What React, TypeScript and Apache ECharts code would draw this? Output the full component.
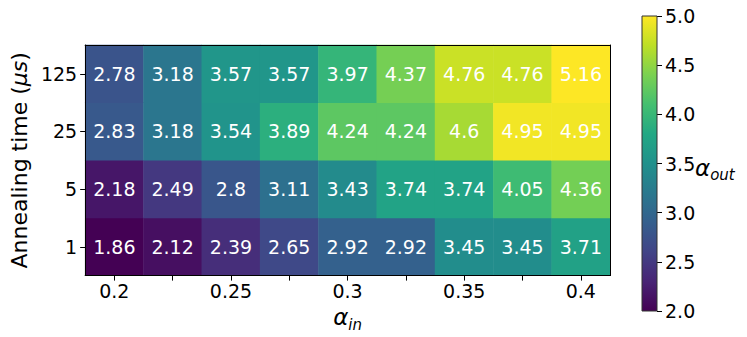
import React, { useEffect, useRef } from "react";
import * as echarts from "echarts";

const xCategories = ["0.2", "0.225", "0.25", "0.275", "0.3", "0.325", "0.35", "0.375", "0.4"];
const xLabelShown = ["0.2", "", "0.25", "", "0.3", "", "0.35", "", "0.4"];
const yCategories = ["1", "5", "25", "125"];

const row1 = [1.86, 2.12, 2.39, 2.65, 2.92, 2.92, 3.45, 3.45, 3.71];
const row5 = [2.18, 2.49, 2.8, 3.11, 3.43, 3.74, 3.74, 4.05, 4.36];
const row25 = [2.83, 3.18, 3.54, 3.89, 4.24, 4.24, 4.6, 4.95, 4.95];
const row125 = [2.78, 3.18, 3.57, 3.57, 3.97, 4.37, 4.76, 4.76, 5.16];
const rows = [row1, row5, row25, row125];

const cbarMin = 2;
const cbarMax = 5;
const cbarInterval = 0.5;

const viridis = [
  "#440154", "#482475", "#414487", "#355f8d", "#2a788e", "#21918c",
  "#22a884", "#44bf70", "#7ad151", "#bddf26", "#fde725",
];

const FONT = "DejaVu Sans";

export default function App() {
  const ref = useRef<HTMLDivElement>(null);
  useEffect(() => {
    if (!ref.current) return;
    const chart = echarts.init(ref.current, null, { renderer: "svg" });
    const data: [number, number, number][] = [];
    rows.forEach((r, yi) => r.forEach((v, xi) => data.push([xi, yi, v])));
    const stops = viridis.map((c, i) => ({ offset: i / (viridis.length - 1), color: c }));

    chart.setOption({
      animation: false,
      textStyle: { fontFamily: FONT },
      grid: [
        { left: 79, top: 45, width: 531, height: 236 },
        { left: 642, top: 16, width: 15, height: 295 },
      ],
      xAxis: [
        {
          type: "category",
          gridIndex: 0,
          data: xCategories,
          position: "bottom",
          z: 10,
          axisLine: { show: true, lineStyle: { color: "#000", width: 1 } },
          axisTick: { show: true, interval: 0, alignWithLabel: true, length: 5, lineStyle: { color: "#000" } },
          axisLabel: {
            interval: 0,
            margin: 6,
            fontSize: 19,
            color: "#000",
            fontFamily: FONT,
            formatter: (_v: string, i: number) => xLabelShown[i],
          },
          splitLine: { show: false },
          name: "{a|α}{b|in}",
          nameLocation: "middle",
          nameGap: 24,
          nameTextStyle: {
            rich: {
              a: { fontSize: 23, fontStyle: "italic", fontFamily: FONT, color: "#000", lineHeight: 30 },
              b: { fontSize: 15, fontStyle: "italic", fontFamily: FONT, color: "#000", lineHeight: 13, verticalAlign: "bottom" },
            },
          },
        },
        {
          type: "category",
          gridIndex: 0,
          data: xCategories,
          position: "top",
          z: 10,
          axisLine: { show: true, lineStyle: { color: "#000", width: 1 } },
          axisTick: { show: false },
          axisLabel: { show: false },
          splitLine: { show: false },
        },
        {
          type: "category",
          gridIndex: 1,
          data: ["c"],
          show: false,
        },
      ],
      yAxis: [
        {
          type: "category",
          gridIndex: 0,
          data: yCategories,
          position: "left",
          z: 10,
          axisLine: { show: true, lineStyle: { color: "#000", width: 1 } },
          axisTick: { show: true, alignWithLabel: true, length: 5, lineStyle: { color: "#000" } },
          axisLabel: { margin: 8, fontSize: 19, color: "#000", fontFamily: FONT },
          splitLine: { show: false },
          name: "{a|Annealing time (}{b|μs}{a|)}",
          nameLocation: "middle",
          nameGap: 53,
          nameTextStyle: {
            rich: {
              a: { fontSize: 22, fontFamily: FONT, color: "#000" },
              b: { fontSize: 22, fontFamily: FONT, fontStyle: "italic", color: "#000" },
            },
          },
        },
        {
          type: "category",
          gridIndex: 0,
          data: yCategories,
          position: "right",
          z: 10,
          axisLine: { show: true, lineStyle: { color: "#000", width: 1 } },
          axisTick: { show: false },
          axisLabel: { show: false },
          splitLine: { show: false },
        },
        {
          type: "value",
          gridIndex: 1,
          position: "right",
          min: cbarMin,
          max: cbarMax,
          interval: cbarInterval,
          axisLine: { show: false },
          axisTick: { show: true, length: 5, lineStyle: { color: "#000" } },
          axisLabel: {
            margin: 8,
            fontSize: 19,
            color: "#000",
            fontFamily: FONT,
            formatter: (v: number) => v.toFixed(1),
          },
          splitLine: { show: false },
        },
      ],
      visualMap: {
        show: false,
        type: "continuous",
        min: cbarMin,
        max: cbarMax,
        seriesIndex: 0,
        inRange: { color: viridis },
      },
      graphic: [
        {
          type: "text",
          left: 695,
          top: 156,
          style: {
            text: "{a|α}{b|out}",
            rich: {
              a: { fontSize: 23, fontStyle: "italic", fontFamily: FONT, fill: "#000", lineHeight: 30 },
              b: { fontSize: 15, fontStyle: "italic", fontFamily: FONT, fill: "#000", lineHeight: 13, verticalAlign: "bottom" },
            },
          },
        },
      ],
      series: [
        {
          type: "heatmap",
          xAxisIndex: 0,
          yAxisIndex: 0,
          data,
          label: {
            show: true,
            color: "#fff",
            fontSize: 19,
            fontFamily: FONT,
            formatter: (p: any) => String(p.value[2]),
          },
          emphasis: { disabled: true },
          itemStyle: { borderWidth: 0 },
        },
        {
          type: "custom",
          xAxisIndex: 2,
          yAxisIndex: 2,
          data: [[0]],
          renderItem: (_params: any, api: any) => {
            const p0 = api.coord([0, cbarMin]);
            const p1 = api.coord([0, cbarMax]);
            const w = api.size([1, 0])[0];
            return {
              type: "rect",
              shape: { x: p0[0] - w / 2, y: p1[1], width: w, height: p0[1] - p1[1] },
              style: {
                fill: new echarts.graphic.LinearGradient(0, 1, 0, 0, stops),
                stroke: "#333",
                lineWidth: 1,
              },
            };
          },
        },
      ],
    });
    return () => chart.dispose();
  }, []);
  return (
    <div
      ref={ref}
      style={{ position: "fixed", left: 0, top: 0, width: 747, height: 337, background: "#fff" }}
    />
  );
}
